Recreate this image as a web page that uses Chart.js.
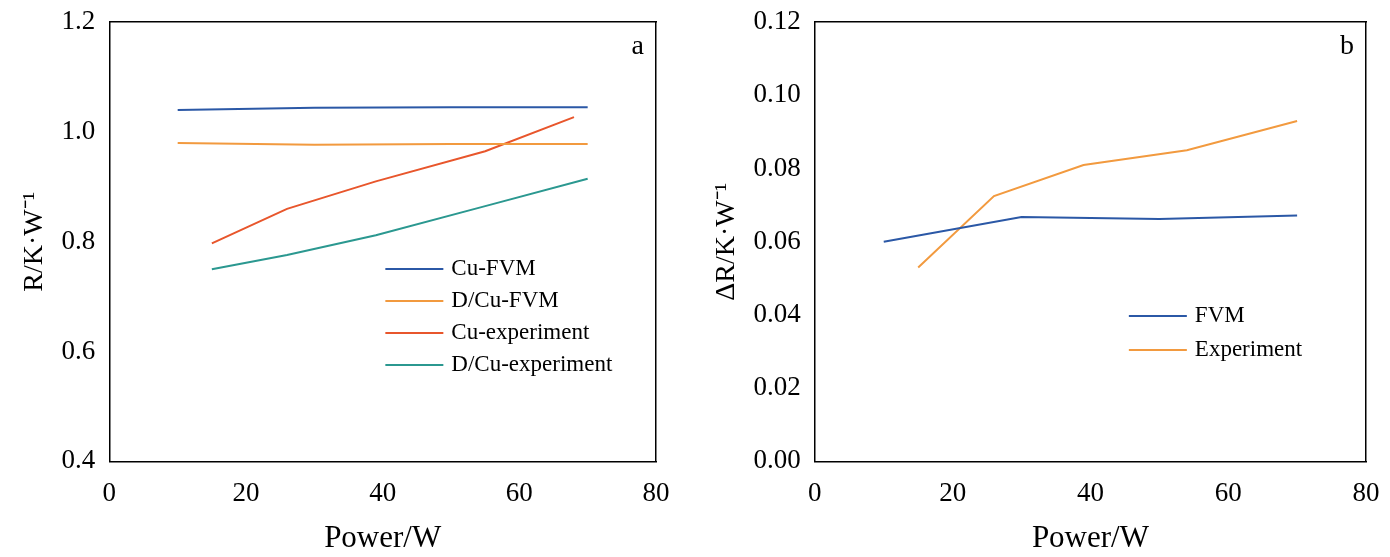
<!DOCTYPE html>
<html><head><meta charset="utf-8">
<script src="https://cdn.jsdelivr.net/npm/chart.js@4/dist/chart.umd.min.js"></script>
<style>
body{margin:0;background:#fff;width:1390px;height:557px;overflow:hidden;position:relative;font-family:"Liberation Serif",serif}
.box{position:absolute;top:0;height:557px}
</style></head><body>
<div class="box" style="left:0;width:690px"><canvas id="ca"></canvas></div>
<div class="box" style="left:700px;width:690px"><canvas id="cb"></canvas></div>
<script>
// --- DATA ---
const cuFvmX = [10, 30, 50, 70];
const cuFvm = [1.040, 1.044, 1.045, 1.045];
const dcuFvmX = [10, 30, 50, 70];
const dcuFvm = [0.980, 0.977, 0.978, 0.978];
const cuExpX = [15, 26, 39, 55, 68];
const cuExp = [0.797, 0.860, 0.910, 0.965, 1.027];
const dcuExpX = [15, 26, 39, 55, 70];
const dcuExp = [0.750, 0.776, 0.812, 0.865, 0.915];

const dFvmX = [10, 30, 50, 70];
const dFvm = [0.060, 0.0668, 0.0662, 0.0672];
const dExpX = [15, 26, 39, 54, 70];
const dExp = [0.053, 0.0725, 0.081, 0.085, 0.093];

const BLUE = '#2b58a6', ORANGE = '#f29a3f', RED = '#e8562c', TEAL = '#2b9890';
const pts = (xs, ys) => xs.map((x, i) => ({ x, y: ys[i] }));
const ds = (label, xs, ys, color) => ({ label, data: pts(xs, ys), borderColor: color, backgroundColor: color, borderWidth: 2, pointRadius: 0, tension: 0 });

// legend + panel letter drawn inside plot area
const innerLegend = {
  id: 'innerLegend',
  afterDraw(chart, args, o) {
    const { ctx, chartArea: a } = chart;
    ctx.save();
    ctx.fillStyle = '#000';
    ctx.textBaseline = 'middle';
    ctx.textAlign = 'right';
    ctx.font = '28px "Liberation Serif"';
    ctx.fillText(o.letter, a.right - 12, a.top + 24);
    ctx.textAlign = 'left';
    ctx.font = '23px "Liberation Serif"';
    chart.data.datasets.forEach((d, i) => {
      const y = o.y + i * o.gap;
      ctx.strokeStyle = d.borderColor; ctx.lineWidth = 2;
      ctx.beginPath(); ctx.moveTo(a.left + o.x, y); ctx.lineTo(a.left + o.x + 58, y); ctx.stroke();
      ctx.fillText(d.label, a.left + o.x + 66, y);
    });
    ctx.restore();
  }
};

const axisFont = { family: 'Liberation Serif', size: 27 };
const opts = (ymin, ymax, step, dec, title, letter, lx, ly, gap, padL, padR) => ({
  responsive: true, maintainAspectRatio: false, animation: false,
  layout: { padding: { left: padL, right: padR, top: 12, bottom: 0 } },
  plugins: { legend: { display: false }, tooltip: { enabled: false }, innerLegend: { letter, x: lx, y: ly, gap } },
  scales: {
    x: { type: 'linear', min: 0, max: 80, ticks: { stepSize: 20, color: '#000', font: axisFont, padding: 8 },
         grid: { display: false }, border: { color: '#000', width: 1.5 },
         title: { display: true, text: 'Power/W', color: '#000', font: { family: 'Liberation Serif', size: 31 }, padding: { top: 2, bottom: 0 } } },
    y: { min: ymin, max: ymax, ticks: { stepSize: step, color: '#000', font: axisFont, padding: 6, callback: v => v.toFixed(dec) },
         grid: { display: false }, border: { color: '#000', width: 1.5 },
         title: { display: true, text: title, color: '#000', font: { family: 'Liberation Serif', size: 28 }, padding: 4 } },
    x2: { position: 'top', type: 'linear', min: 0, max: 80, ticks: { display: false }, grid: { display: false }, border: { color: '#000', width: 1.5 } },
    y2: { position: 'right', min: ymin, max: ymax, ticks: { display: false }, grid: { display: false }, border: { color: '#000', width: 1.5 } }
  }
});

new Chart(document.getElementById('ca'), {
  type: 'line',
  data: { datasets: [ds('Cu-FVM', cuFvmX, cuFvm, BLUE), ds('D/Cu-FVM', dcuFvmX, dcuFvm, ORANGE), ds('Cu-experiment', cuExpX, cuExp, RED), ds('D/Cu-experiment', dcuExpX, dcuExp, TEAL)] },
  options: opts(0.4, 1.2, 0.2, 1, 'R/K·W⁻¹', 'a', 276, 269, 32, 14, 26),
  plugins: [innerLegend]
});
new Chart(document.getElementById('cb'), {
  type: 'line',
  data: { datasets: [ds('FVM', dFvmX, dFvm, BLUE), ds('Experiment', dExpX, dExp, ORANGE)] },
  options: opts(0, 0.12, 0.02, 2, 'ΔR/K·W⁻¹', 'b', 314, 316, 34, 6, 16),
  plugins: [innerLegend]
});
</script></body></html>
